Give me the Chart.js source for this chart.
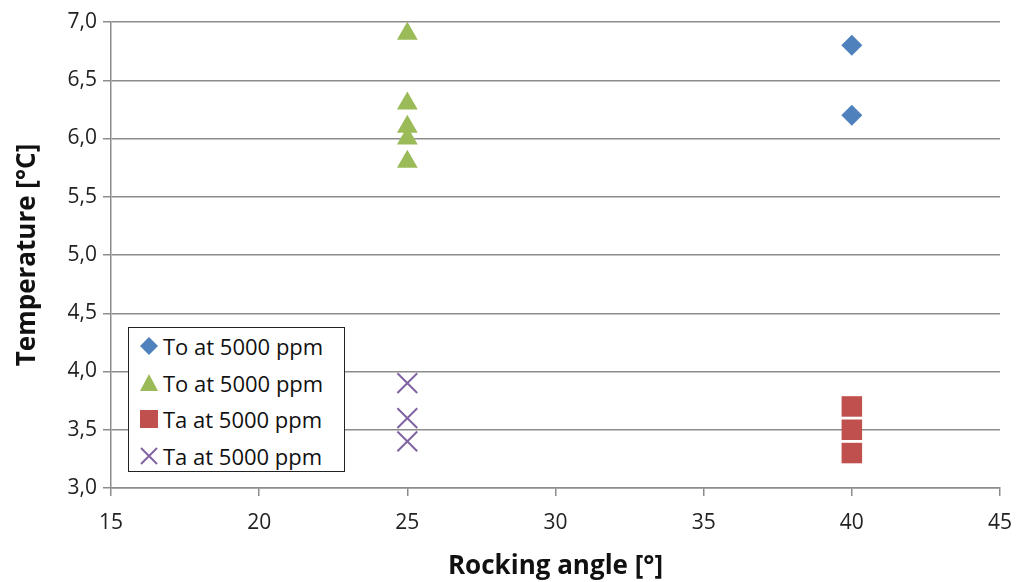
<!DOCTYPE html>
<html>
<head>
<meta charset="utf-8">
<script src="https://cdn.jsdelivr.net/npm/chart.js@4"></script>
<style>
  html, body { margin:0; padding:0; background:#fff; }
  #wrap { position:relative; width:1016px; height:582px; }
  #legend {
    position:absolute; left:128px; top:327px; width:217px; height:145px;
    border:1px solid #222; background:#fff; box-sizing:border-box;
    font-family:'Open Sans', sans-serif; font-size:22px; color:#111;
    padding:0 0 0 10px;
  }
  #legend .row { height:36.5px; display:flex; align-items:center; }
  #legend svg { width:20px; height:20px; margin-right:4px; }
</style>
</head>
<body>
<div id="wrap">
  <canvas id="c" width="1016" height="582"></canvas>
  <div id="legend"></div>
</div>
<script>
/* ── Data ─────────────────────────────────────────────── */
const seriesNames  = ['To at 5000 ppm', 'To at 5000 ppm', 'Ta at 5000 ppm', 'Ta at 5000 ppm'];
const blueX   = [40, 40];
const blueY   = [6.8, 6.2];
const greenX  = [25, 25, 25, 25, 25];
const greenY  = [6.9, 6.3, 6.1, 6.0, 5.8];
const redX    = [40, 40, 40];
const redY    = [3.7, 3.5, 3.3];
const purpleX = [25, 25, 25];
const purpleY = [3.9, 3.6, 3.4];
const xTicks  = [15, 20, 25, 30, 35, 40, 45];
const yTicks  = [3.0, 3.5, 4.0, 4.5, 5.0, 5.5, 6.0, 6.5, 7.0];

const COLORS = ['#4F81BD', '#9BBB59', '#C0504D', '#8064A2'];
const FONT   = "'Open Sans', sans-serif";

function pts(xs, ys) { return xs.map((x, i) => ({ x, y: ys[i] })); }

const datasets = [
  { label: seriesNames[0], data: pts(blueX, blueY),     pointStyle:'rectRot',  pointRadius:10.5, backgroundColor:COLORS[0], borderColor:COLORS[0], borderWidth:0 },
  { label: seriesNames[1], data: pts(greenX, greenY),   pointStyle:'triangle', pointRadius:12,   backgroundColor:COLORS[1], borderColor:COLORS[1], borderWidth:0 },
  { label: seriesNames[2], data: pts(redX, redY),       pointStyle:'rect',     pointRadius:14.5, backgroundColor:COLORS[2], borderColor:COLORS[2], borderWidth:0 },
  { label: seriesNames[3], data: pts(purpleX, purpleY), pointStyle:'crossRot', pointRadius:14,   backgroundColor:COLORS[3], borderColor:COLORS[3], borderWidth:2 }
];

new Chart(document.getElementById('c'), {
  type: 'scatter',
  data: { datasets },
  options: {
    responsive:false, animation:false,
    layout: { padding: { top:22, right:16, left:0, bottom:0 } },
    plugins: { legend:{ display:false }, tooltip:{ enabled:false } },
    scales: {
      x: {
        min:15, max:45,
        afterBuildTicks: s => { s.ticks = xTicks.map(v => ({ value:v })); },
        afterFit: s => { s.height = 94; s.paddingLeft = 0; s.paddingRight = 0; },
        grid: { drawOnChartArea:false, drawTicks:true, tickLength:8, color:'#8c8c8c', lineWidth:1.5 },
        border: { color:'#8c8c8c', width:1.5 },
        ticks: { color:'#222', font:{ family:FONT, size:21 }, padding:14, maxRotation:0 },
        title: { display:true, text:'Rocking angle [°]', color:'#111', font:{ family:FONT, size:26, weight:'bold' }, padding:{ top:0, bottom:0 } }
      },
      y: {
        min:3, max:7,
        afterBuildTicks: s => { s.ticks = yTicks.map(v => ({ value:v })); },
        afterFit: s => { s.width = 111; s.paddingTop = 0; s.paddingBottom = 0; },
        grid: { color:'#8c8c8c', lineWidth:1.5, drawTicks:true, tickLength:8 },
        border: { color:'#8c8c8c', width:1.5 },
        ticks: { color:'#222', font:{ family:FONT, size:21 }, padding:6, callback: v => v.toFixed(1).replace('.', ',') },
        title: { display:true, text:'Temperature [°C]', color:'#111', font:{ family:FONT, size:26, weight:'bold' }, padding:{ top:12, bottom:0 } }
      }
    }
  }
});

/* ── Legend (HTML, inside the plot) ───────────────────── */
const shapes = [
  c => `<polygon points="10,1 19,10 10,19 1,10" fill="${c}"/>`,
  c => `<polygon points="10,1 19,18 1,18" fill="${c}"/>`,
  c => `<rect x="1" y="1" width="18" height="18" fill="${c}"/>`,
  c => `<path d="M2,2 L18,18 M18,2 L2,18" stroke="${c}" stroke-width="2"/>`
];
document.getElementById('legend').innerHTML = seriesNames.map((n, i) =>
  `<div class="row"><svg viewBox="0 0 20 20">${shapes[i](COLORS[i])}</svg><span>${n}</span></div>`
).join('');
</script>
</body>
</html>
